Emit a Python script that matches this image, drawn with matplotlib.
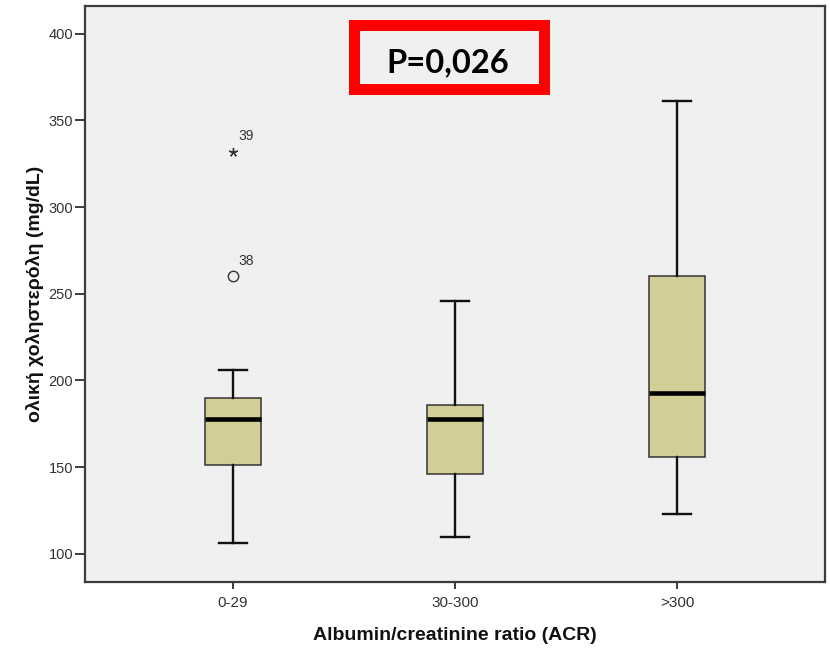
import matplotlib
matplotlib.use("Agg")
import matplotlib.pyplot as plt
from matplotlib.patches import Rectangle

# ---- data ----
categories = ["0-29", "30-300", ">300"]
whislo = [106, 110, 123]
q1 = [151, 146, 156]
med = [178, 178, 193]
q3 = [190, 186, 260]
whishi = [206, 246, 361]
# outliers of group "0-29"
outlier_vals = [260, 332]
outlier_ids = ["38", "39"]
outlier_kind = ["o", "*"]   # o = outlier, * = extreme
y_ticks = [100, 150, 200, 250, 300, 350, 400]
p_text = "P=0,026"
xlabel = "Albumin/creatinine ratio (ACR)"
ylabel = "ολική χοληστερόλη (mg/dL)"

fig = plt.figure(figsize=(8.30, 6.48), dpi=100)
fig.patch.set_facecolor("white")
ax = fig.add_axes([0.1024, 0.1014, 0.8916, 0.8893])
ax.set_facecolor("#F0F0F0")

positions = list(range(1, len(categories) + 1))
stats = []
for i in range(len(categories)):
    stats.append(dict(whislo=whislo[i], q1=q1[i], med=med[i], q3=q3[i],
                      whishi=whishi[i], fliers=[], label=categories[i]))

ax.bxp(stats, positions=positions, widths=0.252, patch_artist=True,
       showfliers=False,
       boxprops=dict(facecolor="#D3CE97", edgecolor="#333333", linewidth=1.1),
       medianprops=dict(color="black", linewidth=3.3, solid_capstyle="butt"),
       whiskerprops=dict(color="#111111", linewidth=1.7),
       capprops=dict(color="#111111", linewidth=1.7),
       capwidths=0.126)

# outliers for first group
for v, lab, kind in zip(outlier_vals, outlier_ids, outlier_kind):
    if kind == "o":
        ax.plot([positions[0]], [v], marker="o", markersize=7.5,
                markerfacecolor="none", markeredgecolor="#333333",
                markeredgewidth=1.0, linestyle="none")
    else:
        ax.plot([positions[0]], [v], marker=(5, 2, 0), markersize=6.5,
                color="#333333", markeredgewidth=1.0, linestyle="none")
    ax.annotate(lab, xy=(positions[0], v), xytext=(4, 6),
                textcoords="offset points", fontsize=10,
                family="Liberation Sans", color="#333333", va="bottom")

ax.set_xlim(0.335, 3.665)
ax.set_ylim(83.6, 415.9)
ax.set_xticks(positions)
ax.set_xticklabels(categories)
ax.set_yticks(y_ticks)
ax.set_yticklabels([str(t) for t in y_ticks])

for lbl in ax.get_yticklabels():
    lbl.set_family("Liberation Sans")
    lbl.set_fontsize(10.5)
    lbl.set_color("#333333")
for lbl in ax.get_xticklabels():
    lbl.set_family("Liberation Sans")
    lbl.set_fontsize(11)
    lbl.set_color("#333333")

ax.tick_params(axis="y", length=7, width=1.4, color="#3c3c3c", pad=1.5)
ax.tick_params(axis="x", length=5, width=1.4, color="#3c3c3c", pad=5)

for sp in ax.spines.values():
    sp.set_color("#3c3c3c")
    sp.set_linewidth(1.6)

ax.set_xlabel(xlabel, fontsize=14, fontweight="bold",
              family="Liberation Sans", labelpad=12, color="#111111")
ax.set_ylabel(ylabel, fontsize=14, fontweight="bold",
              family="Liberation Sans", labelpad=3, color="#111111")

# P-value box
rect = Rectangle((0.4263, 0.8630), 0.2289, 0.0991, transform=fig.transFigure,
                 fill=False, edgecolor="#FF0000", linewidth=7.9, zorder=5)
fig.patches.append(rect)
fig.text(0.5398, 0.9032, p_text, ha="center", va="center",
         fontsize=23.5, fontweight="bold", family="Lato", color="black", zorder=6)

fig.savefig("out.png", dpi=100, facecolor="white")
